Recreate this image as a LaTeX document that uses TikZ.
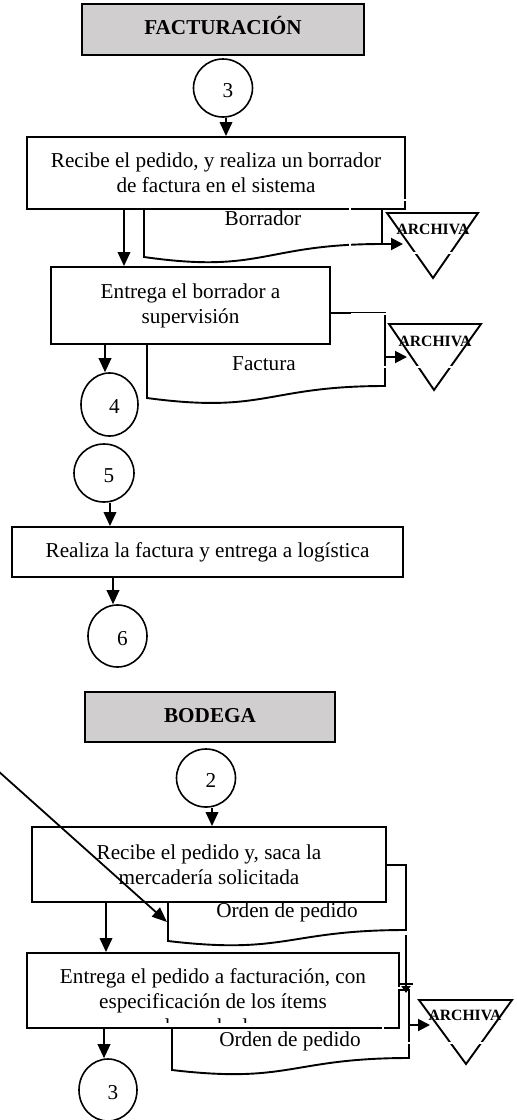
\documentclass[tikz,border=0pt]{standalone}
\usepackage{fontspec}
\setmainfont{Liberation Serif}
\usetikzlibrary{arrows.meta,shapes.geometric}
\definecolor{hdrgray}{RGB}{208,206,206}
\newcommand{\mainsz}{\fontsize{21.2}{25}\selectfont}
\newcommand{\archsz}{\fontsize{15.7}{18}\selectfont}
\begin{document}
\begin{tikzpicture}[x=1pt,y=-1pt,
  box/.style={draw, line width=1.9pt, fill=white, rectangle, inner sep=0pt, align=center, font=\mainsz},
  oneline/.style={text height=15pt, text depth=4.5pt},
  hdr/.style={box, oneline, fill=hdrgray, font=\mainsz\bfseries},
  conn/.style={ellipse, draw, line width=1.6pt, fill=white, inner sep=0pt, font=\mainsz, text height=18.3pt, text depth=0pt},
  doc/.style={draw, line width=1.9pt, fill=white},
  tri/.style={draw, line width=1.9pt, line join=miter},
  arch/.style={font=\archsz\bfseries, inner sep=0pt, anchor=base},
  lbl/.style={font=\mainsz, inner sep=0pt, anchor=base},
  gap/.style={draw=white, line width=2pt},
  flow/.style={line width=2pt, -{Triangle[length=14pt,width=12.5pt]}},
  side/.style={line width=2pt, -{Triangle[length=12pt,width=12pt]}},
  diag/.style={line width=1.8pt, -{Triangle[length=15pt,width=12pt]}}]
\useasboundingbox (0,0) rectangle (517,1120);

% ---------------- documents (drawn first, boxes overlap their tops)
\path[doc] (144,165) -- (382,165) -- (382,244) coordinate (dbor)
  .. controls (263,244) and (263,274) .. (144,257) -- cycle;
\path[doc] (147,313) -- (385,313) -- (385,386)
  .. controls (266,386) and (266,414) .. (147,398) -- cycle;
\coordinate (dfac) at (385,357);
\path[doc] (168,865) -- (406,865) -- (406,930)
  .. controls (287,930) and (287,955) .. (168,941) -- cycle;
\coordinate (dord1) at (406,935);
\path[doc] (172,990) -- (409,990) -- (409,1058)
  .. controls (290.5,1058) and (290.5,1084) .. (172,1070) -- cycle;
\coordinate (dord2) at (409,1025);
\coordinate (dord2top) at (406,993);

% ---------------- FACTURACION column
\node[hdr, minimum width=282pt, minimum height=51pt] (fact) at (223,29.5) {FACTURACIÓN};
\node[conn, minimum width=59pt, minimum height=58pt] (c3a) at (223,88) {\hspace*{10pt}3};
\node[box, minimum width=378pt, minimum height=72pt] (b1) at (216,173)
  {Recibe el pedido, y realiza un borrador\\de factura en el sistema};
\node[box, minimum width=279pt, minimum height=77pt] (b2) at (190.5,305.5)
  {Entrega el borrador a\\supervisión};
\node[conn, minimum width=57pt, minimum height=63pt] (c4) at (109.5,404.5) {\hspace*{10pt}4};
\node[conn, minimum width=60pt, minimum height=58pt] (c5) at (104,473) {\hspace*{10pt}5};
\node[box, oneline, minimum width=391pt, minimum height=50pt] (b3) at (207.5,552)
  {Realiza la factura y entrega a logística};
\node[conn, minimum width=59pt, minimum height=62pt] (c6) at (117.5,636) {\hspace*{10pt}6};

% ---------------- BODEGA column
\node[hdr, minimum width=250pt, minimum height=50pt] (bod) at (210,717) {BODEGA};
\node[conn, minimum width=59pt, minimum height=58pt] (c2) at (206,778) {\hspace*{10pt}2};
\node[box, minimum width=354pt, minimum height=75pt] (g1) at (209,864.5)
  {Recibe el pedido y, saca la\\mercadería solicitada};
\node[box, minimum width=372pt, minimum height=75pt] (g2) at (213,990.5) {};
\node[conn, minimum width=58pt, minimum height=62pt] (c3b) at (108,1090) {\hspace*{10pt}3};

% ---------------- archive triangles
\path[tri] (387,213) -- (478,213) -- (433,278) -- cycle;
\coordinate (ar1) at (403,244);
\path[tri] (389,324) -- (481,324) -- (434,390) -- cycle;
\coordinate (ar2) at (407,357);
\path[tri] (419,1000) -- (512,1000) -- (466,1064) -- cycle;
\coordinate (ar3) at (430,1025);

% ---------------- white outlines of the label frames
\draw[gap] (350,200) rectangle (520,253);
\draw[gap] (352,314.4) rectangle (520,367);
\draw[gap] (383,988) rectangle (520,1043);

% ---------------- labels
\node[lbl] (lbor) at (263,225) {Borrador};
\node[lbl] (lfac) at (264,370) {Factura};
\node[lbl] (lord1) at (287,917) {Orden de pedido};
\node[lbl] (lord2) at (290,1046.7) {Orden de pedido};
\node[arch] (a1) at (433,234.3) {ARCHIVA};
\node[arch] (a2) at (435,346) {ARCHIVA};
\node[arch] (a3) at (465,1020) {ARCHIVA};

\begin{scope}
  \clip (0,0) rectangle (517,1022);
  \node[font=\mainsz, align=center, inner sep=0pt] (g2t) at (213,1003.3)
    {Entrega el pedido a facturación, con\\especificación de los ítems\\despachados};
\end{scope}

% ---------------- connectors
\coordinate (x0) at (226,0);
\coordinate (x1) at (124,0);
\coordinate (x2) at (105,0);
\coordinate (x3) at (110,0);
\coordinate (x4) at (113,0);
\coordinate (x5) at (212,0);
\coordinate (x6) at (106,0);
\coordinate (x7) at (104,0);
\draw[flow] (c3a.south -| x0) -- (b1.north -| x0);
\draw[flow] (b1.south -| x1) -- (b2.north -| x1);
\draw[flow] (b2.south -| x2) -- (c4.north -| x2);
\draw[flow] (c5.south -| x3) -- (b3.north -| x3);
\draw[flow] (b3.south -| x4) -- (c6.north -| x4);
\draw[flow] (c2.south -| x5) -- (g1.north -| x5);
\draw[flow] (g1.south -| x6) -- (g2.north -| x6);
\draw[flow] (g2.south -| x7) -- (c3b.north -| x7);

\draw[side] (dbor) -- (ar1);
\draw[side] (dfac) -- (ar2);
\draw[side] (dord2) -- (ar3);

\draw[line width=1.8pt, -{Triangle[length=7pt,width=9pt]}] (dord1) -- (dord2top);
\coordinate (tkl) at (398,984);
\coordinate (tkr) at (413,984);
\draw[line width=1.5pt] (tkl) -- (tkr);

\coordinate (dgs) at (-3,770);
\coordinate (dge) at (167,922);
\draw[diag] (dgs) -- (dge);
\end{tikzpicture}
\end{document}
